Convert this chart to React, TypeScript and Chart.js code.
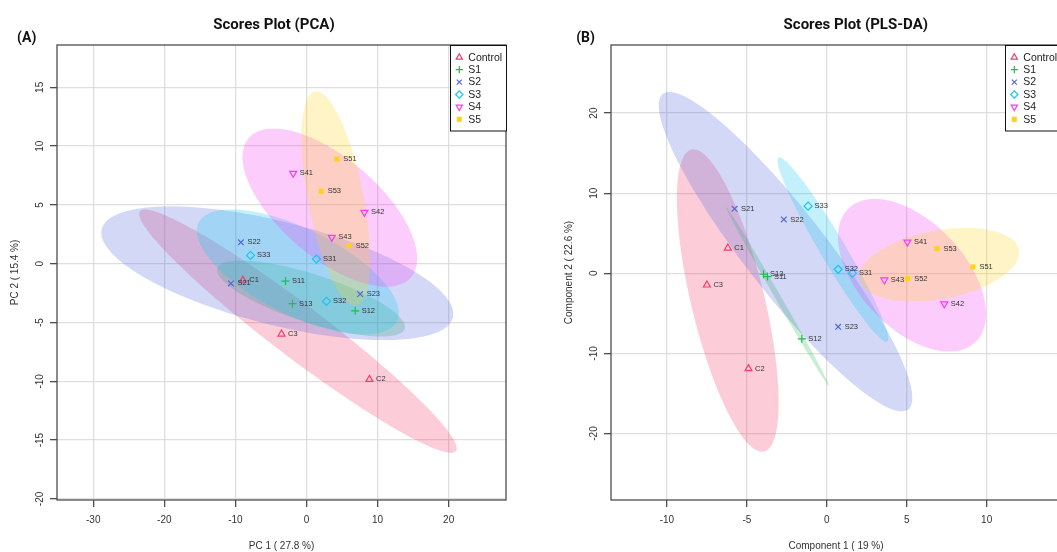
import React, { useEffect, useRef } from 'react';
import { Chart, registerables } from 'chart.js';
import { drawPoint } from 'chart.js/helpers';

Chart.register(...registerables);

// ---------- data ----------
const groupNames = ['Control', 'S1', 'S2', 'S3', 'S4', 'S5'];

const controlSamples = ['C1', 'C2', 'C3'];
const s1Samples = ['S11', 'S12', 'S13'];
const s2Samples = ['S21', 'S22', 'S23'];
const s3Samples = ['S31', 'S32', 'S33'];
const s4Samples = ['S41', 'S42', 'S43'];
const s5Samples = ['S51', 'S52', 'S53'];

// PCA scores [PC1, PC2]
const pcaControl = [[-8.95, -1.39], [8.86, -9.83], [-3.52, -5.98]];
const pcaS1 = [[-2.95, -1.47], [6.85, -4.0], [-1.97, -3.4]];
const pcaS2 = [[-10.63, -1.67], [-9.23, 1.82], [7.55, -2.58]];
const pcaS3 = [[1.41, 0.4], [2.81, -3.2], [-7.87, 0.71]];
const pcaS4 = [[-1.87, 7.69], [8.16, 4.37], [3.57, 2.24]];
const pcaS5 = [[4.27, 8.9], [6.0, 1.53], [2.07, 6.16]];

// PLS-DA scores [Comp1, Comp2]
const plsControl = [[-6.19, 3.15], [-4.9, -11.9], [-7.5, -1.46]];
const plsS1 = [[-3.71, -0.41], [-1.56, -8.18], [-3.96, -0.12]];
const plsS2 = [[-5.77, 8.05], [-2.69, 6.72], [0.71, -6.68]];
const plsS3 = [[1.6, 0.0], [0.71, 0.5], [-1.17, 8.38]];
const plsS4 = [[5.04, 3.9], [7.35, -3.82], [3.6, -0.83]];
const plsS5 = [[9.14, 0.79], [5.06, -0.66], [6.89, 3.07]];

const pcaXTicksStep = 10;
const pcaYTicksStep = 5;
const plsXTicksStep = 5;
const plsYTicksStep = 10;

// ---------- styles ----------
const COLORS = ['#F23D6B', '#22BB55', '#5468DC', '#14C8F0', '#F53CF5', '#FFD21A'];
const FILLS = [
  'rgba(242,61,107,0.26)',
  'rgba(34,187,85,0.25)',
  'rgba(84,104,220,0.26)',
  'rgba(20,200,240,0.26)',
  'rgba(245,60,245,0.26)',
  'rgba(255,210,26,0.25)',
];
const STYLES = ['triangle', 'cross', 'crossRot', 'rectRot', 'triangle', 'rect'];
const ROTS = [0, 0, 0, 0, 180, 0];
const FILLED = [false, false, false, false, false, true];
const SANS = '"Liberation Sans", Arial, sans-serif';

function ellipsePoints(pts: number[][], n = 120): number[][] {
  const m = pts.length;
  const mx = pts.reduce((s, p) => s + p[0], 0) / m;
  const my = pts.reduce((s, p) => s + p[1], 0) / m;
  let vx = 0, vy = 0, cxy = 0;
  pts.forEach((p) => {
    vx += (p[0] - mx) ** 2;
    vy += (p[1] - my) ** 2;
    cxy += (p[0] - mx) * (p[1] - my);
  });
  vx /= m - 1; vy /= m - 1; cxy /= m - 1;
  const t = Math.sqrt(5.991464547107979);
  const sx = Math.sqrt(vx), sy = Math.sqrt(vy);
  let r = cxy / (sx * sy);
  r = Math.max(-1, Math.min(1, r));
  const d = Math.acos(r);
  const out: number[][] = [];
  for (let i = 0; i < n; i++) {
    const a = (2 * Math.PI * i) / (n - 1);
    out.push([t * sx * Math.cos(a + d / 2) + mx, t * sy * Math.cos(a - d / 2) + my]);
  }
  return out;
}

type PanelCfg = {
  groups: number[][][];
  names: string[][];
  xMin: number; xMax: number; xStep: number;
  yMin: number; yMax: number; yStep: number;
  title: string; titleX: number;
  letter: string; letterX: number;
  xTitle: string; yTitle: string;
  yAxisWidth: number; padRight: number;
};

function buildChart(canvas: HTMLCanvasElement, cfg: PanelCfg) {
  const decor = {
    id: 'decor',
    beforeDatasetsDraw(chart: any) {
      const { ctx, chartArea: a } = chart;
      const xs = chart.scales.x, ys = chart.scales.y;
      ctx.save();
      ctx.beginPath();
      ctx.rect(a.left, a.top, a.right - a.left, a.bottom - a.top);
      ctx.clip();
      cfg.groups.forEach((g, i) => {
        const pts = ellipsePoints(g);
        ctx.beginPath();
        pts.forEach((p, k) => {
          const X = xs.getPixelForValue(p[0]);
          const Y = ys.getPixelForValue(p[1]);
          if (k === 0) ctx.moveTo(X, Y); else ctx.lineTo(X, Y);
        });
        ctx.closePath();
        ctx.fillStyle = FILLS[i];
        ctx.fill();
      });
      ctx.restore();
    },
    afterDatasetsDraw(chart: any) {
      const { ctx } = chart;
      ctx.save();
      ctx.font = '7.5px ' + SANS;
      ctx.fillStyle = '#333';
      ctx.textAlign = 'left';
      ctx.textBaseline = 'middle';
      cfg.names.forEach((nm, i) => {
        const meta = chart.getDatasetMeta(i);
        meta.data.forEach((el: any, k: number) => {
          ctx.fillText(nm[k], el.x + 6.5, el.y);
        });
      });
      ctx.restore();
    },
    afterDraw(chart: any) {
      const { ctx, chartArea: a } = chart;
      const xs = chart.scales.x, ys = chart.scales.y;
      ctx.save();
      // box
      ctx.strokeStyle = '#4d4d4d';
      ctx.lineWidth = 1.3;
      ctx.strokeRect(a.left, a.top, a.right - a.left, a.bottom - a.top);
      // tick labels
      ctx.fillStyle = '#333';
      ctx.font = '10px ' + SANS;
      ctx.textAlign = 'center';
      ctx.textBaseline = 'middle';
      xs.ticks.forEach((t: any) => {
        ctx.fillText(String(t.value), xs.getPixelForValue(t.value), a.bottom + 20.7);
      });
      ys.ticks.forEach((t: any) => {
        ctx.save();
        ctx.translate(a.left - 16.5, ys.getPixelForValue(t.value));
        ctx.rotate(-Math.PI / 2);
        ctx.fillText(String(t.value), 0, 0);
        ctx.restore();
      });
      // axis titles
      ctx.fillText(cfg.xTitle, (a.left + a.right) / 2, a.bottom + 46);
      ctx.save();
      ctx.translate(a.left - 42, (a.top + a.bottom) / 2);
      ctx.rotate(-Math.PI / 2);
      ctx.fillText(cfg.yTitle, 0, 0);
      ctx.restore();
      // title and panel letter
      ctx.fillStyle = '#111';
      ctx.font = 'bold 15px Roboto, ' + SANS;
      ctx.fillText(cfg.title, cfg.titleX, 25.5);
      ctx.font = 'bold 14px Roboto, ' + SANS;
      ctx.fillText(cfg.letter, cfg.letterX, 38.5);
      // legend
      const lx = a.right - 56;
      const lh = 86;
      ctx.fillStyle = '#fff';
      ctx.fillRect(lx, a.top, 56, lh);
      ctx.strokeStyle = '#111';
      ctx.lineWidth = 1;
      ctx.strokeRect(lx + 0.5, a.top + 0.5, 56, lh - 0.5);
      ctx.font = '10.5px ' + SANS;
      ctx.textAlign = 'left';
      groupNames.forEach((g, i) => {
        const yy = a.top + 12.3 + i * 12.4;
        ctx.fillStyle = FILLED[i] ? COLORS[i] : 'rgba(0,0,0,0)';
        ctx.strokeStyle = COLORS[i];
        ctx.lineWidth = 1.2;
        drawPoint(ctx, { pointStyle: STYLES[i], rotation: ROTS[i], radius: 3.6, borderWidth: FILLED[i] ? 0 : 1.2 } as any, lx + 9.3, yy);
        ctx.fillStyle = '#222';
        ctx.fillText(g, lx + 18.3, yy + 0.5);
      });
      ctx.restore();
    },
  };

  const datasets = cfg.groups.map((g, i) => ({
    label: groupNames[i],
    data: g.map((p) => ({ x: p[0], y: p[1] })),
    pointStyle: STYLES[i] as any,
    rotation: ROTS[i],
    pointRadius: FILLED[i] ? 3.6 : 4,
    pointBorderWidth: FILLED[i] ? 0 : 1.2,
    borderColor: COLORS[i],
    backgroundColor: FILLED[i] ? COLORS[i] : 'rgba(0,0,0,0)',
    showLine: false,
  }));

  const gridCommon = {
    color: '#dedede',
    lineWidth: 1.3,
    tickColor: '#4d4d4d',
    tickLength: 7,
    drawTicks: true,
  };

  return new Chart(canvas, {
    type: 'scatter',
    data: { datasets },
    options: {
      animation: false,
      responsive: false,
      devicePixelRatio: 1,
      layout: { padding: { top: 45, right: cfg.padRight, left: 0, bottom: 0 } },
      plugins: { legend: { display: false }, tooltip: { enabled: false }, title: { display: false } },
      scales: {
        x: {
          type: 'linear',
          min: cfg.xMin, max: cfg.xMax,
          ticks: { display: false, stepSize: cfg.xStep, includeBounds: false },
          grid: gridCommon,
          border: { display: false },
          afterFit: (s: any) => { s.height = 52; },
        },
        y: {
          type: 'linear',
          min: cfg.yMin, max: cfg.yMax,
          ticks: { display: false, stepSize: cfg.yStep, includeBounds: false },
          grid: gridCommon,
          border: { display: false },
          afterFit: (s: any) => { s.width = cfg.yAxisWidth; },
        },
      },
    } as any,
    plugins: [decor],
  });
}

export default function App() {
  const leftRef = useRef<HTMLCanvasElement>(null);
  const rightRef = useRef<HTMLCanvasElement>(null);

  useEffect(() => {
    const c1 = buildChart(leftRef.current!, {
      groups: [pcaControl, pcaS1, pcaS2, pcaS3, pcaS4, pcaS5],
      names: [controlSamples, s1Samples, s2Samples, s3Samples, s4Samples, s5Samples],
      xMin: -35.1, xMax: 28.07, xStep: pcaXTicksStep,
      yMin: -20.09, yMax: 18.6, yStep: pcaYTicksStep,
      title: 'Scores Plot (PCA)', titleX: 274,
      letter: '(A)', letterX: 26.7,
      xTitle: 'PC 1 ( 27.8 %)', yTitle: 'PC 2 ( 15.4 %)',
      yAxisWidth: 57, padRight: 24,
    });
    const c2 = buildChart(rightRef.current!, {
      groups: [plsControl, plsS1, plsS2, plsS3, plsS4, plsS5],
      names: [controlSamples, s1Samples, s2Samples, s3Samples, s4Samples, s5Samples],
      xMin: -13.5, xMax: 14.65, xStep: plsXTicksStep,
      yMin: -28.3, yMax: 28.5, yStep: plsYTicksStep,
      title: 'Scores Plot (PLS-DA)', titleX: 325.8,
      letter: '(B)', letterX: 55.5,
      xTitle: 'Component 1 ( 19 %)', yTitle: 'Component 2 ( 22.6 %)',
      yAxisWidth: 81, padRight: 29,
    });
    return () => { c1.destroy(); c2.destroy(); };
  }, []);

  return (
    <div style={{ position: 'fixed', left: 0, top: 0, width: 1057, height: 552, overflow: 'hidden', background: '#fff' }}>
      <canvas ref={leftRef} width={530} height={552} style={{ position: 'absolute', left: 0, top: 0 }} />
      <canvas ref={rightRef} width={560} height={552} style={{ position: 'absolute', left: 530, top: 0 }} />
    </div>
  );
}
